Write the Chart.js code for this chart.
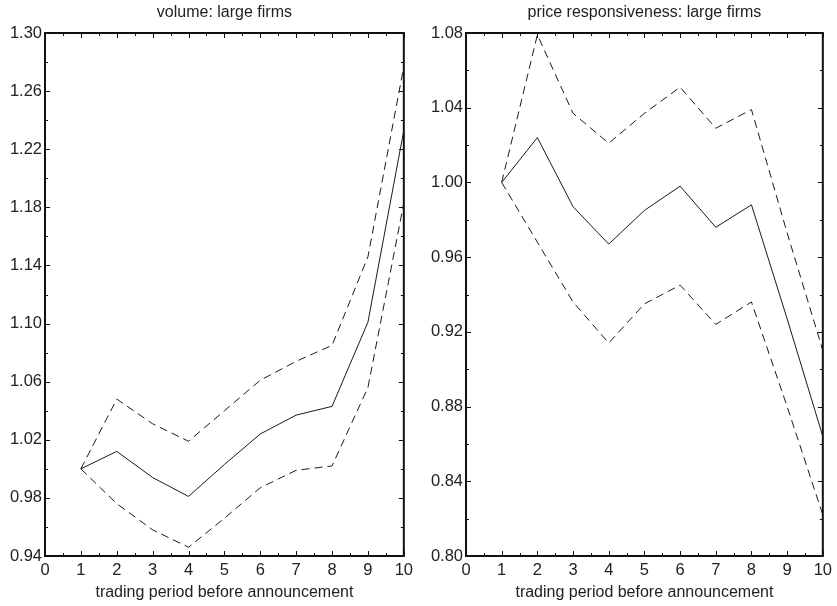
<!DOCTYPE html>
<html>
<head>
<meta charset="utf-8">
<script src="https://cdn.jsdelivr.net/npm/chart.js@4.4.0/dist/chart.umd.min.js"></script>
<style>
html,body{margin:0;padding:0;background:#fff;}
#wrap{position:relative;width:837px;height:606px;}
.box{position:absolute;top:0;height:606px;}
</style>
</head>
<body>
<div id="wrap">
  <div class="box" style="left:0;width:418px;"><canvas id="c1"></canvas></div>
  <div class="box" style="left:418px;width:419px;"><canvas id="c2"></canvas></div>
</div>
<script>
// ---- data ----
const periods = [1, 2, 3, 4, 5, 6, 7, 8, 9, 10];
const xTicks = [0, 1, 2, 3, 4, 5, 6, 7, 8, 9, 10];

const volumeMid   = [1.000, 1.012, 0.994, 0.981, 1.003, 1.024, 1.037, 1.043, 1.101, 1.233];
const volumeUpper = [1.000, 1.048, 1.031, 1.019, 1.040, 1.061, 1.074, 1.085, 1.146, 1.277];
const volumeLower = [1.000, 0.976, 0.958, 0.946, 0.966, 0.987, 0.999, 1.002, 1.056, 1.183];
const volumeTicks = [0.94, 0.98, 1.02, 1.06, 1.10, 1.14, 1.18, 1.22, 1.26, 1.30];

const priceMid   = [1.000, 1.024, 0.987, 0.967, 0.985, 0.998, 0.976, 0.988, 0.927, 0.864];
const priceUpper = [1.000, 1.079, 1.037, 1.021, 1.037, 1.051, 1.029, 1.039, 0.973, 0.910];
const priceLower = [1.000, 0.968, 0.936, 0.914, 0.935, 0.945, 0.924, 0.936, 0.880, 0.822];
const priceTicks = [0.80, 0.84, 0.88, 0.92, 0.96, 1.00, 1.04, 1.08];

const titles = ['volume: large firms', 'price responsiveness: large firms'];
const xTitle = 'trading period before announcement';

// ---- helpers ----
const FONT = "'Liberation Sans', Arial, Helvetica, sans-serif";
function pts(vals){ return periods.map((p,i)=>({x:p, y:vals[i]})); }

const framePlugin = {
  id: 'frame',
  afterDraw(chart){
    const ctx = chart.ctx, a = chart.chartArea;
    const xs = chart.scales.x, ys = chart.scales.y;
    ctx.save();
    ctx.strokeStyle = '#111';
    ctx.lineWidth = 1;
    for (let v = xs.min; v <= xs.max + 1e-9; v += 0.5) {
      const px = Math.round(xs.getPixelForValue(v)) + 0.5;
      const len = (Math.abs(v - Math.round(v)) < 1e-9) ? 5 : 3;
      ctx.beginPath();
      ctx.moveTo(px, a.bottom); ctx.lineTo(px, a.bottom - len);
      ctx.moveTo(px, a.top); ctx.lineTo(px, a.top + len);
      ctx.stroke();
    }
    const step = 0.02;
    const n = Math.round((ys.max - ys.min) / step);
    for (let i = 0; i <= n; i++) {
      const v = ys.min + i * step;
      const py = Math.round(ys.getPixelForValue(v)) + 0.5;
      const len = (i % 2 === 0) ? 5 : 3;
      ctx.beginPath();
      ctx.moveTo(a.left, py); ctx.lineTo(a.left + len, py);
      ctx.moveTo(a.right, py); ctx.lineTo(a.right - len, py);
      ctx.stroke();
    }
    ctx.lineWidth = 2;
    ctx.strokeRect(a.left, a.top, a.right - a.left, a.bottom - a.top);
    ctx.restore();
  }
};

function makeChart(id, title, mid, up, lo, yTicks, yWidth, padRight){
  const lineBase = {showLine:true, pointRadius:0, borderColor:'#1a1a1a', borderWidth:1, tension:0, fill:false};
  return new Chart(document.getElementById(id), {
    type: 'scatter',
    data: {
      datasets: [
        Object.assign({label:'mid', data: pts(mid)}, lineBase),
        Object.assign({label:'upper', data: pts(up), borderDash:[8,5]}, lineBase),
        Object.assign({label:'lower', data: pts(lo), borderDash:[8,5]}, lineBase)
      ]
    },
    options: {
      responsive: true,
      maintainAspectRatio: false,
      animation: false,
      layout: { padding: {top:0, right:padRight, bottom:0, left:0} },
      plugins: {
        legend: {display:false},
        tooltip: {enabled:false},
        title: {display:false}
      },
      scales: {
        x: {
          type: 'linear', min: 0, max: 10,
          afterBuildTicks(s){ s.ticks = xTicks.map(v=>({value:v})); },
          afterFit(s){ s.height = 50; },
          grid: {display:false, drawTicks:false},
          border: {display:false},
          ticks: {color:'#222', padding:5, maxRotation:0, autoSkip:false,
                  font:{family:FONT, size:16.5}, callback:(v)=>String(v)},
          title: {display:true, text:xTitle, color:'#222',
                  font:{family:FONT, size:16, lineHeight:1.2}, padding:{top:0,bottom:3.4}}
        },
        top: {
          type: 'linear', position: 'top', min: 0, max: 10,
          afterFit(s){ s.height = 33; },
          grid: {display:false, drawTicks:false},
          border: {display:false},
          ticks: {display:false},
          title: {display:true, text:title, color:'#222',
                  font:{family:FONT, size:16, lineHeight:1.2}, padding:{top:3.4,bottom:0}}
        },
        y: {
          type: 'linear', min: yTicks[0], max: yTicks[yTicks.length-1],
          afterBuildTicks(s){ s.ticks = yTicks.map(v=>({value:v})); },
          afterFit(s){ s.width = yWidth; },
          grid: {display:false, drawTicks:false},
          border: {display:false},
          ticks: {color:'#222', padding:3, autoSkip:false,
                  font:{family:FONT, size:16.5}, callback:(v)=>Number(v).toFixed(2)}
        }
      }
    },
    plugins: [framePlugin]
  });
}

makeChart('c1', titles[0], volumeMid, volumeUpper, volumeLower, volumeTicks, 45, 13);
makeChart('c2', titles[1], priceMid, priceUpper, priceLower, priceTicks, 48, 12);
</script>
</body>
</html>
